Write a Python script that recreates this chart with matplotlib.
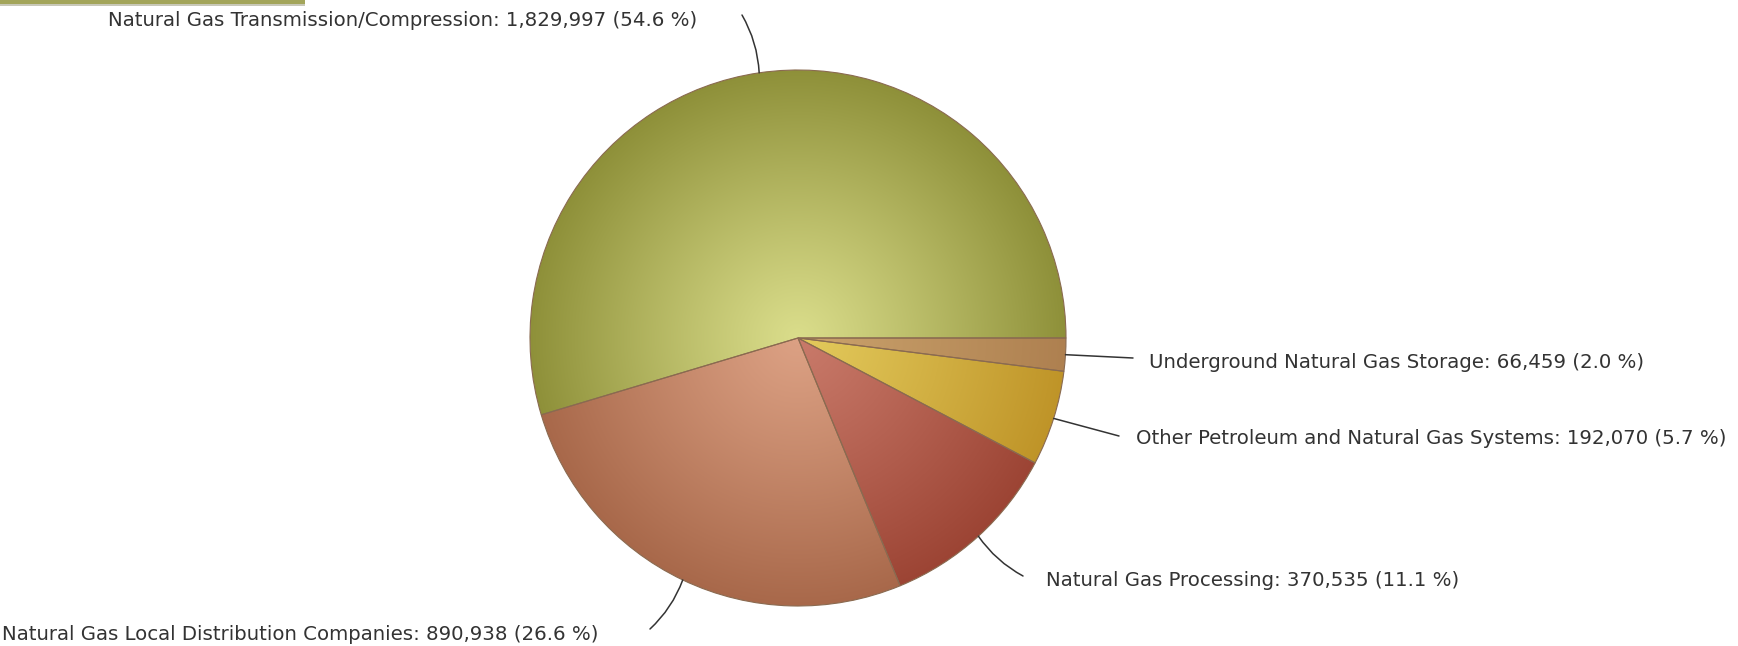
import numpy as np
import matplotlib.pyplot as plt
from matplotlib.patches import Rectangle
from matplotlib.colors import to_rgb

# Podaci
labels = [
    "Natural Gas Transmission/Compression",
    "Natural Gas Local Distribution Companies",
    "Natural Gas Processing",
    "Other Petroleum and Natural Gas Systems",
    "Underground Natural Gas Storage",
]
values = [1829997, 890938, 370535, 192070, 66459]
percents = [54.6, 26.6, 11.1, 5.7, 2.0]

# Boje: sredina i rub svakog isjecka (za gradijent)
col_in = ["#dadd8b", "#dca184", "#c97a6a", "#e3ca5c", "#caa26c"]
col_out = ["#8e9039", "#a8684a", "#9c4434", "#bf9428", "#ae8050"]

W, H = 1738, 646
fig = plt.figure(figsize=(W / 100, H / 100), dpi=100)
ax = fig.add_axes([0, 0, 1, 1])

cx, cy, R = 798, H - 338, 268
wedges, _ = ax.pie(values, startangle=0, counterclock=True, center=(cx, cy),
                   radius=R, wedgeprops=dict(facecolor="none", edgecolor="#8a6a50",
                                             linewidth=0.8, zorder=3))

# Radijalni gradijent za svaki isjecak
n = 2 * R
yy, xx = np.mgrid[0:n, 0:n]
d = np.sqrt((xx - R + 0.5) ** 2 + (yy - R + 0.5) ** 2) / R
t = np.clip(d, 0, 1)[..., None] ** 1.1
for w, ci, co in zip(wedges, col_in, col_out):
    a = np.array(to_rgb(ci))
    b = np.array(to_rgb(co))
    img = a * (1 - t) + b * t
    im = ax.imshow(img, extent=(cx - R, cx + R, cy - R, cy + R), origin="lower",
                   zorder=2, interpolation="bilinear")
    im.set_clip_path(w)

# Oznake i linije
text_pos = [(108, H - 20), (2, H - 635), (1046, H - 581), (1136, H - 439), (1149, H - 362)]
line_end = [(742, H - 15), (650, H - 629), (1023, H - 576), (1119, H - 436), (1133, H - 358)]
rads = [-0.12, 0.12, -0.12, 0.0, 0.0]

cum = np.cumsum([0] + values)
tot = float(sum(values))
for i in range(len(values)):
    ang = np.deg2rad(360 * (cum[i] + cum[i + 1]) / 2 / tot)
    px, py = cx + R * np.cos(ang), cy + R * np.sin(ang)
    ax.annotate("", xy=(px, py), xytext=line_end[i],
                arrowprops=dict(arrowstyle="-", color="#333333", lw=1.1,
                                connectionstyle="arc3,rad=%s" % rads[i],
                                shrinkA=0, shrinkB=0), zorder=4)
    txt = "%s: %s (%.1f %%)" % (labels[i], format(values[i], ","), percents[i])
    ax.text(text_pos[i][0], text_pos[i][1], txt, ha="left", va="center",
            fontsize=14.2, color="#333333", family="DejaVu Sans")

# Traka gore lijevo
ax.add_patch(Rectangle((0, H - 4), 305, 4, facecolor="#a3a55a", edgecolor="none", clip_on=False))
ax.add_patch(Rectangle((0, H - 6), 305, 2, facecolor="#c8c8b8", edgecolor="none", clip_on=False))

ax.set_xlim(0, W)
ax.set_ylim(0, H)
ax.axis("off")
fig.savefig("out.png", dpi=100)
